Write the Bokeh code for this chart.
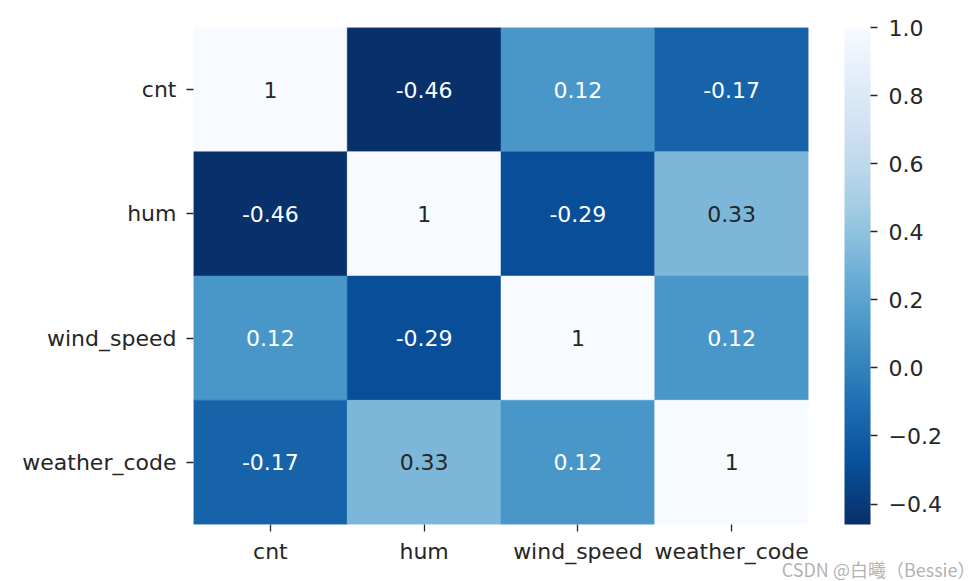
from bokeh.plotting import figure
from bokeh.models import (ColumnDataSource, LinearColorMapper, ColorBar, FixedTicker,
                          CustomJSTickFormatter, Title, FactorRange)
from bokeh.palettes import Blues256
from bokeh.transform import transform
from bokeh.core.properties import value
from bokeh.embed import file_html
from bokeh.resources import INLINE

variables = ["cnt", "hum", "wind_speed", "weather_code"]
corr = [
    [1.00, -0.46, 0.12, -0.17],
    [-0.46, 1.00, -0.29, 0.33],
    [0.12, -0.29, 1.00, 0.12],
    [-0.17, 0.33, 0.12, 1.00],
]
cbar_ticks = [-0.4, -0.2, 0.0, 0.2, 0.4, 0.6, 0.8, 1.0]
vmin, vmax = -0.46, 1.0

xs, ys, vals, labels, tcolors = [], [], [], [], []
for i, row_name in enumerate(variables):
    for j, col_name in enumerate(variables):
        v = corr[i][j]
        xs.append(col_name)
        ys.append(row_name)
        vals.append(v)
        labels.append("1" if v == 1.0 else f"{v:.2f}")
        frac = (v - vmin) / (vmax - vmin)
        tcolors.append("#262626" if frac > 0.5 else "#ffffff")

src = ColumnDataSource(dict(x=xs, y=ys, v=vals, label=labels, tc=tcolors))

mapper = LinearColorMapper(palette=Blues256, low=vmin, high=vmax)

FONT = "DejaVu Sans"
FS = "22px"
p = figure(width=980, height=581, output_backend="svg", toolbar_location=None,
           x_range=FactorRange(*variables), y_range=FactorRange(*reversed(variables)),
           min_border_left=193, min_border_right=172, min_border_top=27, min_border_bottom=57)
p.outline_line_color = None
p.grid.grid_line_color = None
p.background_fill_color = "white"

p.rect(x="x", y="y", width=1, height=1, source=src,
       fill_color=transform("v", mapper), line_color=transform("v", mapper), line_width=0.5)
p.text(x="x", y="y", text="label", source=src, text_color="tc",
       text_align="center", text_baseline="middle",
       text_font=value(FONT), text_font_size=FS)

for ax in (p.xaxis[0], p.yaxis[0]):
    ax.axis_line_color = None
    ax.major_tick_out = 7
    ax.major_tick_in = 0
    ax.major_tick_line_color = "#262626"
    ax.major_tick_line_width = 1.3
    ax.minor_tick_line_color = None
    ax.major_label_text_font = FONT
    ax.major_label_text_font_size = FS
    ax.major_label_text_color = "#262626"
p.xaxis[0].major_label_standoff = 7
p.yaxis[0].major_label_standoff = 10

cb = ColorBar(color_mapper=mapper, ticker=FixedTicker(ticks=cbar_ticks),
              formatter=CustomJSTickFormatter(code="return tick.toFixed(1).replace('-', '\u2212');"),
              width=26, height=497, padding=0, margin=0, location=(36, 0),
              major_tick_out=7, major_tick_in=0, major_tick_line_color="#262626",
              major_tick_line_width=1.3, minor_tick_line_color=None,
              major_label_text_font=FONT, major_label_text_font_size=FS,
              major_label_text_color="#262626", label_standoff=11,
              bar_line_color=None, border_line_color=None)
p.add_layout(cb, "right")

wm = Title(text="CSDN @白曦（Bessie）", align="right", offset=-167, standoff=-26,
           text_font="Noto Sans CJK SC", text_font_size="18px", text_font_style="normal",
           text_color="#a8a8a8", text_alpha=0.9)
p.add_layout(wm, "below")

open("out.html", "w").write(file_html(p, INLINE))
